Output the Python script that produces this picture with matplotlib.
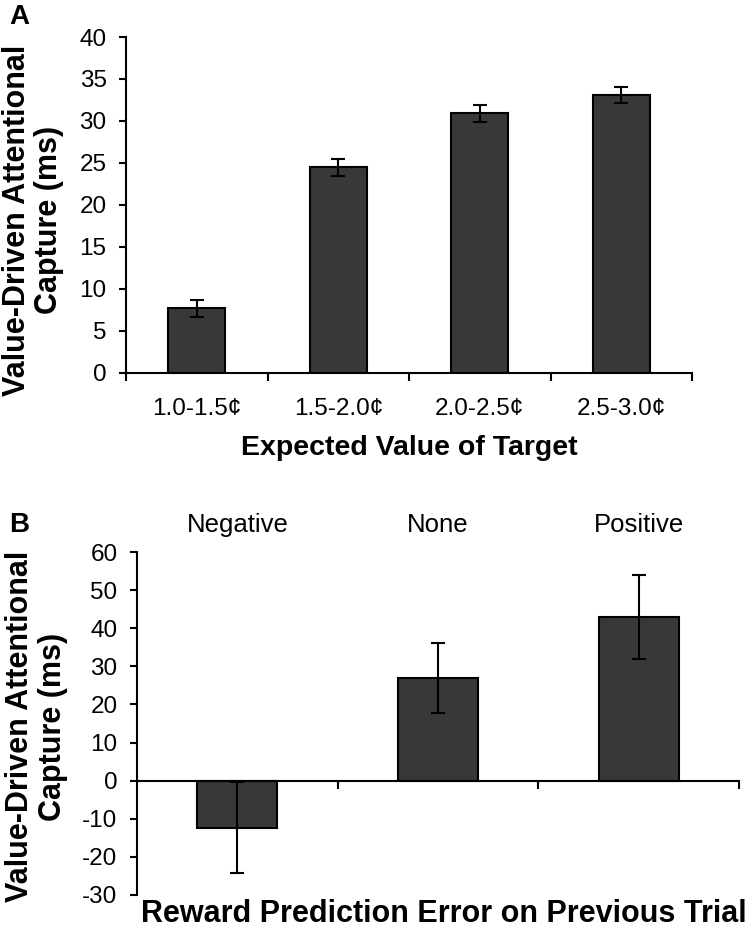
import numpy as np
import matplotlib
matplotlib.use("Agg")
import matplotlib.pyplot as plt

plt.rcParams['font.family'] = ['Liberation Sans', 'DejaVu Sans']
plt.rcParams['axes.unicode_minus'] = False

# panel A
ev_labels = ["1.0-1.5¢", "1.5-2.0¢", "2.0-2.5¢", "2.5-3.0¢"]
ev_means = [7.7, 24.5, 30.9, 33.1]
ev_err = [1.0, 1.0, 1.0, 1.0]

# panel B
rpe_labels = ["Negative", "None", "Positive"]
rpe_means = [-12.3, 27.0, 43.0]
rpe_err = [11.9, 9.2, 11.0]

bar_col = "#383838"
ylab = "Value-Driven Attentional\nCapture (ms)"

fig = plt.figure(figsize=(7.56, 9.32), dpi=100)
axA = fig.add_axes([0.1667, 0.5998, 0.7487, 0.3605])
axB = fig.add_axes([0.1812, 0.0397, 0.7963, 0.3680])

def style(ax):
    for s in ["top", "right"]:
        ax.spines[s].set_visible(False)
    for s in ["left", "bottom"]:
        ax.spines[s].set_linewidth(1.5)
    ax.tick_params(axis="y", direction="out", length=5, width=1.5, labelsize=17.5, pad=9)

# ---- A ----
x = np.arange(len(ev_labels))
axA.bar(x, ev_means, width=0.4, color=bar_col, edgecolor="black", linewidth=1.5,
        yerr=ev_err, error_kw=dict(ecolor="black", elinewidth=1.5, capsize=5, capthick=1.5))
axA.set_xlim(-0.5, len(ev_labels) - 0.5)
axA.set_ylim(0, 40)
axA.set_yticks(np.arange(0, 41, 5))
axA.set_xticks(x)
axA.set_xticklabels(ev_labels, fontsize=17.5)
axA.set_xticks(np.arange(-0.5, len(ev_labels)), minor=True)
axA.tick_params(axis="x", which="major", length=0, pad=18)
axA.tick_params(axis="x", which="minor", direction="out", length=6, width=1.5)
style(axA)
axA.set_xlabel("Expected Value of Target", fontsize=20.5, fontweight="bold", labelpad=11)
axA.set_ylabel(ylab, fontsize=22, fontweight="bold", linespacing=1.1)
axA.yaxis.set_label_coords(-0.109, 0.455)
fig.text(0.012, 0.982, "A", fontsize=20, fontweight="bold", va="center")

# ---- B ----
xb = np.arange(len(rpe_labels))
axB.bar(xb, rpe_means, width=0.4, color=bar_col, edgecolor="black", linewidth=1.5,
        yerr=rpe_err, error_kw=dict(ecolor="black", elinewidth=1.5, capsize=5, capthick=1.5))
axB.set_xlim(-0.5, len(rpe_labels) - 0.5)
axB.set_ylim(-30, 60)
axB.set_yticks(np.arange(-30, 61, 10))
axB.spines["bottom"].set_position(("data", 0))
axB.set_xticks(xb)
axB.set_xticklabels(rpe_labels, fontsize=18.5)
axB.set_xticks(np.arange(0.5, len(rpe_labels)), minor=True)
axB.tick_params(axis="x", which="major", length=0, top=True, bottom=False,
                labeltop=True, labelbottom=False, pad=11)
axB.tick_params(axis="x", which="minor", direction="out", length=6, width=1.5,
                top=False, bottom=True)
style(axB)
axB.set_ylabel(ylab, fontsize=22, fontweight="bold", linespacing=1.1)
axB.yaxis.set_label_coords(-0.115, 0.491)
axB.text(0.51, -0.012, "Reward Prediction Error on Previous Trial", transform=axB.transAxes,
         ha="center", va="top", fontsize=22, fontweight="bold")
fig.text(0.012, 0.437, "B", fontsize=20, fontweight="bold", va="center")

fig.savefig("out.png", dpi=100)
